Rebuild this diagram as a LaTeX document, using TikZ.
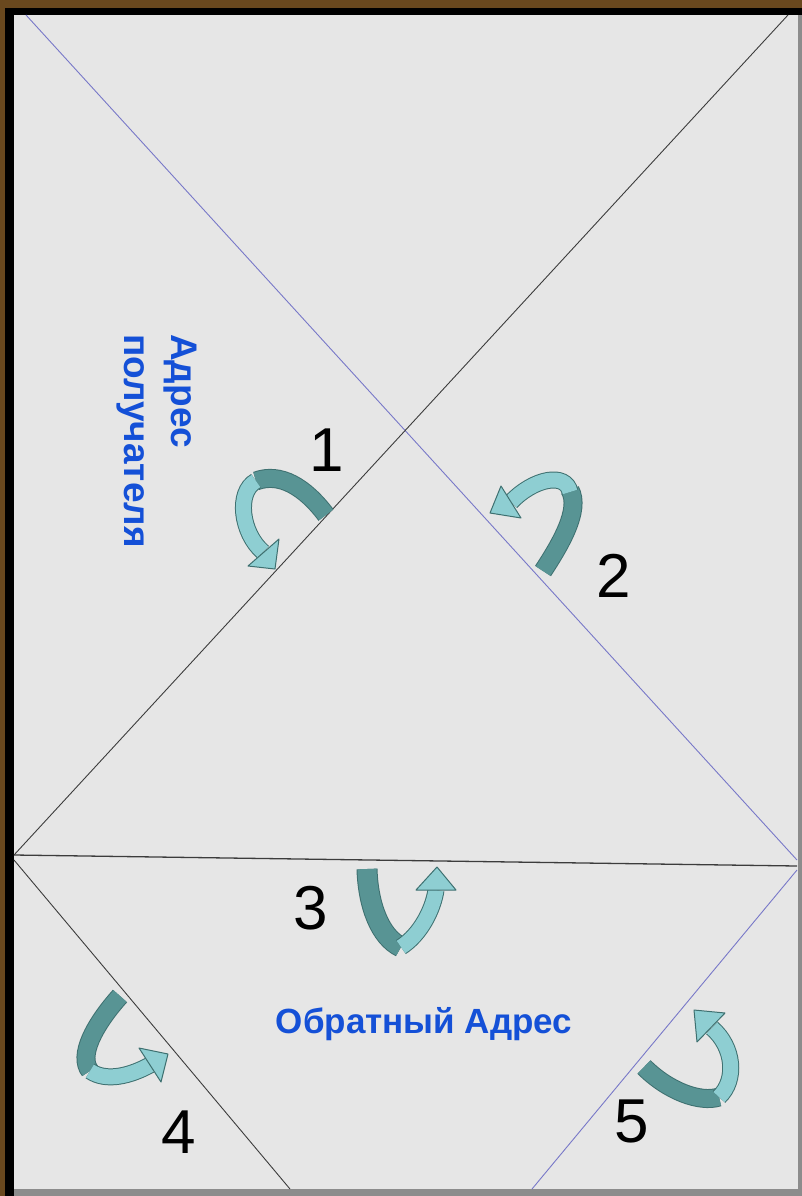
\documentclass[tikz,border=0pt]{standalone}
\usepackage{fontspec}
\setmainfont{Liberation Sans}
\definecolor{brownbg}{RGB}{105,72,30}
\definecolor{paper}{RGB}{230,230,230}
\definecolor{shadowgray}{RGB}{140,140,140}
\definecolor{foldblue}{RGB}{120,120,200}
\definecolor{foldblack}{RGB}{60,60,60}
\definecolor{addrblue}{RGB}{20,80,215}
\definecolor{ardark}{RGB}{88,148,148}
\definecolor{arlight}{RGB}{142,206,210}
\definecolor{arline}{RGB}{62,112,112}
\newcommand\ribbonseg[3]{\draw[arline, line width=#2+2pt] #3; \draw[#1, line width=#2] #3;}
\tikzset{
  num/.style={font=\fontsize{62}{70}\selectfont, inner sep=0pt, text=black},
  addr/.style={font=\bfseries\fontsize{35}{46}\selectfont, inner sep=0pt, text=addrblue},
  arhead/.style={fill=arlight, draw=arline, line width=1pt, line join=round},
  foldb/.style={draw=foldblue, line width=0.9pt},
  foldk/.style={draw=foldblack, line width=0.9pt}
}
\begin{document}
\begin{tikzpicture}[x=1pt,y=-1pt]
\useasboundingbox (0,0) rectangle (802,1196);
\fill[brownbg] (0,0) rectangle (802,1196);
\fill[black] (5,8) rectangle (802,1196);
\fill[shadowgray] (14,15) rectangle (802,1196);
\fill[paper] (14,15) rectangle (798,1189);
% fold lines
\coordinate (tl) at (26,15);
\coordinate (tr) at (788,15);
\coordinate (ml) at (14,855);
\coordinate (mr1) at (797,860);
\coordinate (mr) at (797,866);
\coordinate (ml2) at (14,860);
\coordinate (b4) at (290,1189);
\coordinate (mr2) at (797,870);
\coordinate (b5) at (532,1189);
\draw[foldb] (tl) -- (mr1);
\draw[foldk] (tr) -- (ml);
\draw[foldk, line width=1.3pt] (ml) -- (mr);
\draw[foldk] (ml2) -- (b4);
\draw[foldb] (mr2) -- (b5);
% arrow 1
\ribbonseg{ardark}{17pt}{(326,515) .. controls (305,487) and (280,472) .. (256,481)}
\ribbonseg{arlight}{15pt}{(256,481) .. controls (236,492) and (241,533) .. (263,552)}
\filldraw[arhead] (248,566) -- (279,539) -- (275,569) -- cycle;
% arrow 2
\ribbonseg{ardark}{17pt}{(543,571) .. controls (560,545) and (581,510) .. (570,490)}
\ribbonseg{arlight}{15pt}{(570,492) .. controls (566,472) and (534,478) .. (511,502)}
\filldraw[arhead] (501,486) -- (521,518) -- (490,513) -- cycle;
% arrow 3
\ribbonseg{ardark}{19pt}{(367,869) .. controls (368,905) and (380,937) .. (401,947)}
\ribbonseg{arlight}{15pt}{(401,947) .. controls (420,935) and (433,910) .. (436,890)}
\filldraw[arhead] (416,890) -- (456,890) -- (437,867) -- cycle;
% arrow 4
\ribbonseg{ardark}{17pt}{(120,996) .. controls (94,1025) and (78,1056) .. (90,1071)}
\ribbonseg{arlight}{15pt}{(90,1071) .. controls (106,1082) and (130,1076) .. (150,1065)}
\filldraw[arhead] (139,1048) -- (161,1082) -- (168,1054) -- cycle;
% arrow 5
\ribbonseg{ardark}{17pt}{(644,1067) .. controls (668,1091) and (700,1103) .. (719,1097)}
\ribbonseg{arlight}{15pt}{(719,1097) .. controls (737,1080) and (734,1047) .. (712,1028)}
\filldraw[arhead] (725,1013) -- (697,1042) -- (694,1010) -- cycle;
% texts
\node[addr, rotate=-90, align=left, font=\bfseries\fontsize{37}{47}\selectfont] (recv) at (157,441) {Адрес\\получателя};
\node[addr] (ret) at (424,1024) {Обратный Адрес};
\node[num] (n1) at (327,450) {1};
\node[num] (n2) at (614,576) {2};
\node[num] (n3) at (311,908) {3};
\node[num] (n4) at (179,1132) {4};
\node[num] (n5) at (632,1121) {5};
\end{tikzpicture}
\end{document}
